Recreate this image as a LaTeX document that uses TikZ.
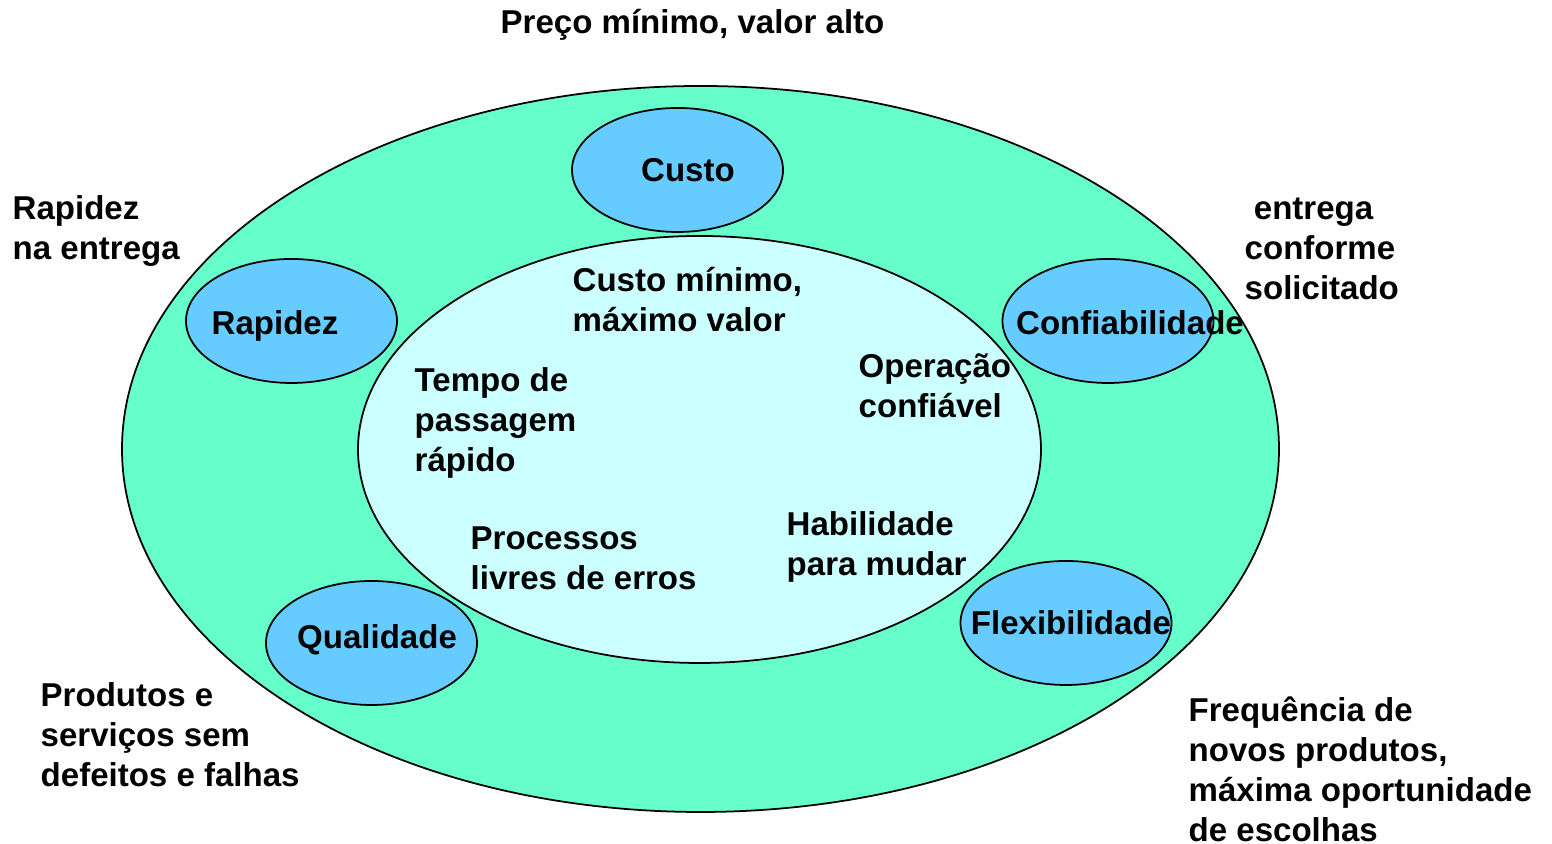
\documentclass[tikz,border=0pt]{standalone}
\usepackage{fontspec}
\setmainfont{Liberation Sans}
\usepackage{tikz}
\usetikzlibrary{shapes.geometric}
\definecolor{outergreen}{HTML}{66FFCC}
\definecolor{innercyan}{HTML}{CCFFFF}
\definecolor{ovalblue}{HTML}{66CCFF}
\tikzset{
    ring/.style={ellipse, draw=black, line width=0.5pt, inner sep=0pt},
    outer/.style={ring, fill=outergreen, minimum width=11.57cm, minimum height=7.26cm},
    inner/.style={ring, fill=innercyan, minimum width=6.83cm, minimum height=4.27cm},
    oval/.style={ring, fill=ovalblue, minimum width=2.11cm, minimum height=1.24cm},
    lbl/.style={inner sep=0pt, anchor=base, font=\bfseries\fontsize{9.4}{11.4}\selectfont},
    txt/.style={inner sep=0pt, anchor=base west, align=left,
        font=\bfseries\fontsize{9.4}{11.4}\selectfont}
}
\begin{document}
\begin{tikzpicture}
\useasboundingbox (0,0) rectangle (15.52,8.44);
% the two rings
\node[style={outer}] (ring) at (7.005,3.95) {};
\node[style={inner}] (core) at (6.995,3.945) {};
% the five objectives
\node[style={oval}] (custo) at (6.775,6.74) {};
\node[style={oval}] (rapidez) at (2.915,5.23) {};
\node[style={oval}] (confia) at (11.08,5.23) {};
\node[style={oval}] (qualid) at (3.715,2.01) {};
\node[style={oval}] (flexi) at (10.66,2.21) {};
\node[style={lbl}] (custoT) at (6.88,6.62) {Custo};
\node[style={lbl}] (rapidezT) at (2.75,5.09) {Rapidez};
\node[style={lbl}] (confiaT) at (11.30,5.09) {Confiabilidade};
\node[style={lbl}] (qualidT) at (3.77,1.95) {Qualidade};
\node[style={lbl}] (flexiT) at (10.71,2.09) {Flexibilidade};
% inside: internal effects
\node[style={txt}] (custoIn) at (5.72,5.12) {Custo mínimo,\\máximo valor};
\node[style={txt}] (rapidezIn) at (4.14,3.72) {Tempo de\\passagem\\rápido};
\node[style={txt}] (confiaIn) at (8.58,4.26) {Operação\\confiável};
\node[style={txt}] (flexiIn) at (7.86,2.68) {Habilidade\\para mudar};
\node[style={txt}] (qualidIn) at (4.70,2.54) {Processos\\livres de erros};
% outside: external effects
\node[style={txt}] (custoOut) at (5.00,8.10) {Preço mínimo, valor alto};
\node[style={txt}] (rapidezOut) at (0.12,5.84) {Rapidez\\na entrega};
\node[style={txt}] (confiaOut) at (12.44,5.44) {\ entrega\\conforme\\solicitado};
\node[style={txt}] (qualidOut) at (0.40,0.57) {Produtos e\\serviços sem\\defeitos e falhas};
\node[style={txt}] (flexiOut) at (11.88,0.02) {Frequência de\\novos produtos,\\máxima oportunidade\\de escolhas};
\end{tikzpicture}
\end{document}
